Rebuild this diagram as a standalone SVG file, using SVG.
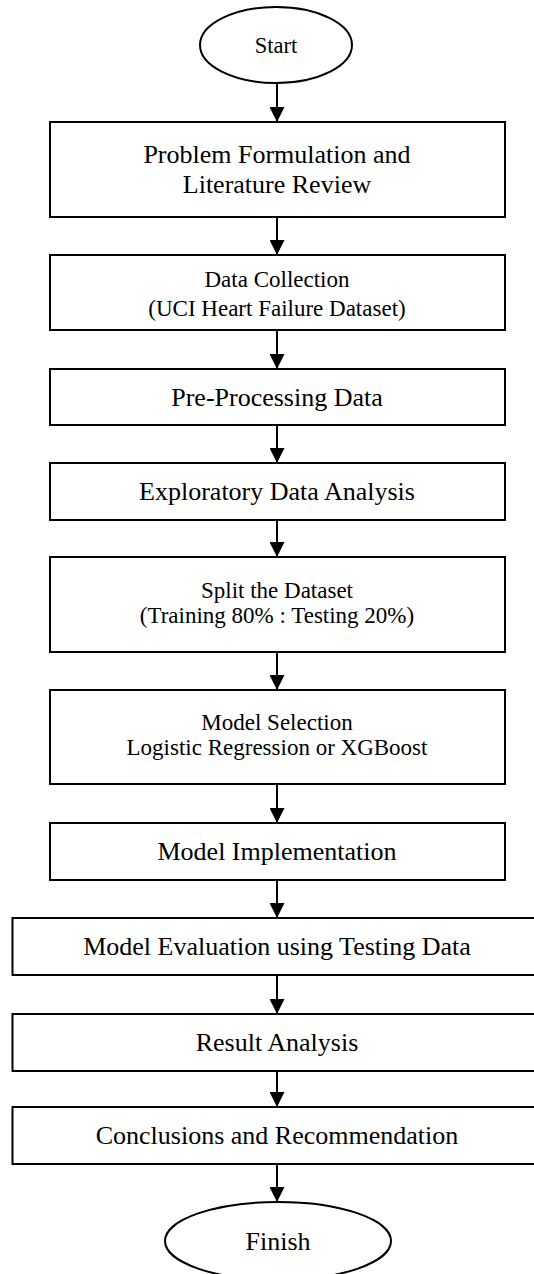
<svg xmlns="http://www.w3.org/2000/svg" width="534" height="1274" viewBox="0 0 534 1274">
<defs>
<marker id="ah" viewBox="0 0 15 15" refX="15" refY="7.5" markerWidth="15" markerHeight="15" markerUnits="userSpaceOnUse" orient="auto">
<path d="M0,0 L15,7.5 L0,15 Z" fill="#000"/>
</marker>
<style>
.b{fill:#fff;stroke:#000;stroke-width:2}
.t{font-family:"Liberation Serif","Times New Roman",serif;font-size:26px;fill:#000;text-anchor:middle}
.s{font-size:23px}
.c{stroke:#000;stroke-width:2;fill:none;marker-end:url(#ah)}
</style>
</defs>
<rect width="534" height="1274" fill="#fff"/>
<g id="connectors">
<line class="c" x1="277" y1="83" x2="277" y2="122"/>
<line class="c" x1="277" y1="217" x2="277" y2="255"/>
<line class="c" x1="277" y1="330" x2="277" y2="369"/>
<line class="c" x1="277" y1="425" x2="277" y2="463"/>
<line class="c" x1="277" y1="520" x2="277" y2="557"/>
<line class="c" x1="277" y1="652" x2="277" y2="690"/>
<line class="c" x1="277" y1="784" x2="277" y2="823"/>
<line class="c" x1="277" y1="880" x2="277" y2="918"/>
<line class="c" x1="277" y1="975" x2="277" y2="1014"/>
<line class="c" x1="277" y1="1071" x2="277" y2="1107"/>
<line class="c" x1="277" y1="1164" x2="277" y2="1202"/>
</g>
<g id="start">
<ellipse class="b" cx="276" cy="45" rx="76" ry="38"/>
<text class="t" x="276" y="53" style="font-size:22.5px">Start</text>
</g>
<g id="problem">
<rect class="b" x="50" y="122" width="455" height="95"/>
<text class="t" x="277" y="163">Problem Formulation and</text>
<text class="t" x="277" y="193">Literature Review</text>
</g>
<g id="data">
<rect class="b" x="50" y="255" width="455" height="75"/>
<text class="t s" x="277" y="287">Data Collection</text>
<text class="t s" x="277" y="316">(UCI Heart Failure Dataset)</text>
</g>
<g id="preprocessing">
<rect class="b" x="50" y="369" width="455" height="56"/>
<text class="t" x="277" y="406">Pre-Processing Data</text>
</g>
<g id="eda">
<rect class="b" x="50" y="463" width="455" height="57"/>
<text class="t" x="277" y="500">Exploratory Data Analysis</text>
</g>
<g id="split">
<rect class="b" x="50" y="557" width="455" height="95"/>
<text class="t s" x="277" y="598">Split the Dataset</text>
<text class="t s" x="277" y="623">(Training 80% : Testing 20%)</text>
</g>
<g id="selection">
<rect class="b" x="50" y="690" width="455" height="94"/>
<text class="t s" x="277" y="730">Model Selection</text>
<text class="t s" x="277" y="755">Logistic Regression or XGBoost</text>
</g>
<g id="implementation">
<rect class="b" x="50" y="823" width="455" height="57"/>
<text class="t" x="277" y="860">Model Implementation</text>
</g>
<g id="evaluation">
<rect class="b" x="12.5" y="918" width="532" height="57"/>
<text class="t" x="277" y="955">Model Evaluation using Testing Data</text>
</g>
<g id="result">
<rect class="b" x="12.5" y="1014" width="532" height="57"/>
<text class="t" x="277" y="1051">Result Analysis</text>
</g>
<g id="conclusions">
<rect class="b" x="12.5" y="1107" width="532" height="57"/>
<text class="t" x="277" y="1144">Conclusions and Recommendation</text>
</g>
<g id="finish">
<ellipse class="b" cx="278" cy="1241" rx="113" ry="39"/>
<text class="t" x="278" y="1250">Finish</text>
</g>
</svg>
